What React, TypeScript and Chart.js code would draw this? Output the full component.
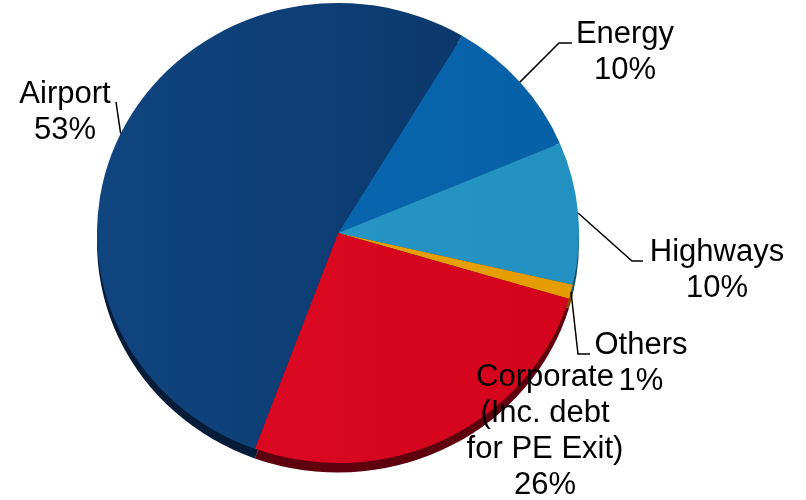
import React, { useEffect, useRef } from "react";
import { Chart, registerables } from "chart.js";

Chart.register(...registerables);

// ---- data ----
const categories = ["Energy", "Highways", "Others", "Corporate", "Airport"];
const shares = [10, 10, 1, 26, 53];
const labelLines = [
  ["Energy"],
  ["Highways"],
  ["Others"],
  ["Corporate", "(Inc. debt", "for PE Exit)"],
  ["Airport"],
];

// ---- styles ----
const colorsLeft = ["#0a6ab4", "#2a9bcb", "#eca400", "#de0a24", "#104580"];
const colorsRight = ["#0660a6", "#2290c0", "#e59c00", "#d3041c", "#0a3566"];
const rimColors = ["#04325a", "#124c66", "#7a5000", "#5e000e", "#061c38"];

// ---- layout ----
const CX = 338;
const CY = 233;
const R = 241;
const SY = 230 / 241;
const DEPTH = 10;
const LINE_H = 36;
const FONT = "31px 'Liberation Sans', Arial, sans-serif";
const labelLayout: { x: number; y: number; path: number[][] | null }[] = [
  { x: 625, y: 43, path: [[559, 43], [572, 43]] },
  { x: 717, y: 261, path: [[632, 261], [643, 261]] },
  { x: 641, y: 354, path: [[578, 354], [590, 354]] },
  { x: 545, y: 386, path: null },
  { x: 65, y: 103, path: [[116, 102]] },
];

const tiltPlugin = {
  id: "tilt",
  beforeDatasetsDraw(chart: any) {
    const ctx = chart.ctx;
    const meta = chart.getDatasetMeta(0);
    ctx.save();
    ctx.translate(0, CY);
    ctx.scale(1, SY);
    ctx.translate(0, -CY);
    // side rim
    meta.data.forEach((arc: any, i: number) => {
      const { x, y, startAngle, endAngle, outerRadius } = arc.getProps(
        ["x", "y", "startAngle", "endAngle", "outerRadius"],
        true
      );
      ctx.beginPath();
      ctx.moveTo(x, y + DEPTH);
      ctx.arc(x, y + DEPTH, outerRadius, startAngle, endAngle);
      ctx.closePath();
      ctx.fillStyle = rimColors[i];
      ctx.fill();
    });
  },
  afterDatasetsDraw(chart: any) {
    chart.ctx.restore();
  },
};

const labelPlugin = {
  id: "pieLabels",
  afterDraw(chart: any) {
    const ctx = chart.ctx;
    const meta = chart.getDatasetMeta(0);
    ctx.save();
    ctx.font = FONT;
    ctx.fillStyle = "#000";
    ctx.textAlign = "center";
    ctx.textBaseline = "alphabetic";
    ctx.strokeStyle = "#000";
    ctx.lineWidth = 1.5;
    meta.data.forEach((arc: any, i: number) => {
      const lay = labelLayout[i];
      const lines = [...labelLines[i], `${shares[i]}%`];
      lines.forEach((t, k) => ctx.fillText(t, lay.x, lay.y + k * LINE_H));
      if (lay.path) {
        const { x, y, startAngle, endAngle, outerRadius } = arc.getProps(
          ["x", "y", "startAngle", "endAngle", "outerRadius"],
          true
        );
        const mid = (startAngle + endAngle) / 2;
        const sx = x + outerRadius * Math.cos(mid);
        const sy = CY + (y - CY + outerRadius * Math.sin(mid)) * SY;
        ctx.beginPath();
        ctx.moveTo(sx, sy);
        lay.path.forEach((p) => ctx.lineTo(p[0], p[1]));
        ctx.stroke();
      }
    });
    ctx.restore();
  },
};

export default function App() {
  const ref = useRef<HTMLCanvasElement | null>(null);
  useEffect(() => {
    const canvas = ref.current;
    if (!canvas) return;
    const chart = new Chart(canvas, {
      type: "pie",
      data: {
        labels: categories,
        datasets: [
          {
            data: shares,
            backgroundColor: (c: any) => {
              const i = c.dataIndex;
              const g = c.chart.ctx.createLinearGradient(CX - R, 0, CX + R, 0);
              g.addColorStop(0, colorsLeft[i]);
              g.addColorStop(1, colorsRight[i]);
              return g;
            },
            borderWidth: 0,
            clip: false,
          } as any,
        ],
      },
      options: {
        responsive: false,
        devicePixelRatio: 1,
        animation: false,
        rotation: 31,
        radius: R,
        layout: { padding: { left: 0, top: 0, right: 806 - 2 * CX, bottom: 500 - 2 * CY } },
        plugins: {
          legend: { display: false },
          tooltip: { enabled: false },
        },
        events: [],
      } as any,
      plugins: [tiltPlugin, labelPlugin],
    });
    return () => chart.destroy();
  }, []);
  return (
    <div style={{ position: "absolute", left: 0, top: 0, width: 806, height: 500, background: "#fff" }}>
      <canvas ref={ref} width={806} height={500} />
    </div>
  );
}
